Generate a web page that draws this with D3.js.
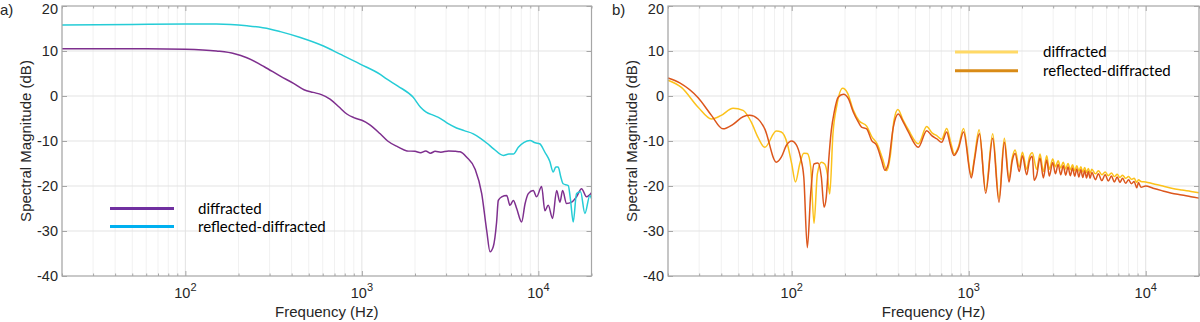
<!DOCTYPE html>
<html lang="en">
<head>
  <meta charset="UTF-8">
  <title>Spectral magnitude</title>
  <script src="https://cdn.jsdelivr.net/npm/d3@7"></script>
  <style>
    body { margin: 0; background: #fff; }
    svg { display: block; }
    .tick-label { font: 14.5px "Liberation Sans", Arial, sans-serif; fill: #262626; }
    .axis-title { font: 15px "Liberation Sans", Arial, sans-serif; fill: #262626; }
    .legend-text { font: 15px Lato, "Open Sans", sans-serif; fill: #000; }
  </style>
</head>
<body>
<div id="app"></div>
<script>
  // y ticks (dB) and x decade ticks (Hz)
  const yTicks = [-40, -30, -20, -10, 0, 10, 20];
  const xDecades = [100, 1000, 10000];
  const legendNames = ['diffracted', 'reflected-diffracted'];

  // panel a) [frequency Hz, dB]
  const diffractedA = [
    [20, 10.5], [60, 10.5], [100, 10.4], [150, 10.0], [190, 9.4], [223, 8.5], [280, 6.5],
    [345, 4.4], [410, 2.8], [470, 1.4], [530, 0.8], [590, 0.3], [660, -0.7], [740, -2.4],
    [822, -4.0], [900, -4.8], [1000, -5.4], [1100, -6.3], [1270, -8.4], [1400, -10.0],
    [1600, -11.3], [1800, -12.2], [2000, -12.3], [2150, -12.6], [2300, -12.2], [2450, -12.7],
    [2600, -12.3], [2800, -12.5], [3100, -12.2], [3400, -12.3], [3600, -12.4], [3926, -13.6],
    [4375, -16.2], [4775, -21.7], [5100, -30.0], [5323, -34.6], [5550, -33.5], [5800, -28.0],
    [5930, -23.2], [6195, -22.4], [6617, -22.1], [6905, -24.3], [7214, -23.2], [7535, -25.0],
    [8040, -28.0], [8400, -24.0], [8770, -21.7], [9354, -21.0], [9775, -22.4], [10430, -20.1],
    [10890, -25.5], [11370, -24.3], [12040, -27.2], [12690, -21.0], [13250, -23.6], [13720, -21.0],
    [14450, -23.9], [15420, -23.6], [16450, -22.4], [17570, -20.6], [18750, -22.4], [20000, -21.5]
  ];
  const reflDiffractedA = [
    [20, 15.8], [50, 15.9], [100, 16.0], [150, 16.0], [223, 15.6], [300, 14.9], [345, 14.3],
    [448, 13.0], [606, 11.1], [753, 9.3], [978, 7.1], [1270, 4.8], [1380, 3.8], [1600, 2.2],
    [1953, -0.3], [2150, -2.5], [2315, -3.6], [2550, -4.3], [2760, -4.9], [3100, -6.2],
    [3438, -7.1], [3800, -7.7], [4279, -8.4], [4700, -9.4], [5115, -10.5], [5600, -11.8],
    [6335, -13.2], [6800, -12.9], [7214, -12.9], [7700, -11.4], [8300, -10.3], [8960, -9.9],
    [9600, -10.4], [10170, -10.6], [10890, -12.5], [11600, -14.5], [12140, -16.9], [12550, -15.8],
    [12950, -15.8], [13400, -18.0], [13810, -19.5], [14770, -19.9], [15200, -23.0], [15760, -28.0],
    [16450, -21.7], [17340, -21.3], [18350, -26.1], [19580, -22.1], [20000, -22.8]
  ];

  // panel b) [frequency Hz, dB]
  const diffractedB = [
    [20, 3.5], [23.8, 1.9], [29.6, -2.5], [35.2, -5.1], [40, -4.3], [46.6, -2.7], [53.1, -3.2],
    [59.1, -5.8], [64.5, -9.2], [70.4, -11.4], [81.8, -7.8], [87.3, -8.0], [94.4, -10.6],
    [100, -15.1], [105, -19.1], [111, -15.1], [117, -12.7], [122.5, -12.8], [128, -15.8],
    [133.6, -28.3], [139.6, -17.3], [147, -14.7], [153.6, -15.1], [158.9, -17.3], [163.9, -21.8],
    [171, -8.4], [180, -2.0], [194, 1.7], [207, 0.6], [223, -3.2], [240, -5.5], [265, -6.7],
    [283, -9.0], [305, -10.8], [325, -13.8], [345, -16.6], [360, -13.5], [378, -5.5], [398, -3.0],
    [425, -5.3], [456, -7.5], [519, -10.6], [579, -6.8], [620, -8.2], [660, -8.8], [703, -9.6],
    [751, -7.2], [790, -10.2], [830, -12.9], [874, -11.3], [935, -7.2], [1035, -17.6], [1075, -13.9],
    [1145, -7.5], [1247, -21.0], [1366, -8.4], [1483, -22.8], [1589, -9.4], [1690, -18.4],
    [1760, -13.8], [1828, -12.0], [1930, -15.8], [2010, -12.5], [2127, -16.3], [2200, -13.6],
    [2287, -12.6], [2421, -16.3], [2528, -12.9], [2641, -16.8], [2758, -13.3], [2853, -16.3],
    [2982, -14.0], [3090, -15.7], [3200, -14.4], [3310, -16.0], [3420, -14.7], [3530, -16.2],
    [3640, -15.0], [3750, -16.4], [3860, -15.3], [3970, -16.6], [4080, -15.5], [4190, -16.7],
    [4300, -15.7], [4410, -16.9], [4520, -15.9], [4630, -17.0], [4740, -16.1], [4850, -17.1],
    [4960, -16.3], [5200, -17.3], [5400, -16.6], [5650, -17.5], [5900, -16.9], [6150, -17.7],
    [6400, -17.1], [6650, -17.9], [6900, -17.4], [7150, -18.1], [7400, -17.6], [7700, -18.3],
    [8000, -17.9], [8300, -18.5], [8600, -18.3], [8900, -19.2], [9100, -18.6], [9400, -19.0],
    [10000, -19.1], [11000, -19.5], [12500, -20.0], [14000, -20.5], [16000, -20.9], [18000, -21.2],
    [20000, -21.5]
  ];
  const reflDiffractedB = [
    [20, 4.0], [23.3, 2.9], [29.6, -0.4], [35.2, -4.3], [40.9, -7.3], [46.6, -6.3], [53.1, -4.6],
    [57.9, -4.3], [64.5, -5.1], [70.4, -7.3], [81.8, -14.7], [87.3, -13.6], [93.2, -11.0],
    [100, -10.0], [106, -10.8], [112, -13.6], [117, -18.0], [122.5, -33.7], [128, -21.7],
    [133.6, -15.1], [140.8, -14.9], [147, -18.0], [152.3, -24.7], [156.8, -22.4], [161.8, -14.3],
    [167.3, -7.7], [174, -3.5], [183, -0.3], [196, 0.4], [209, -0.6], [223, -3.6], [238, -5.8],
    [248, -6.9], [265, -7.3], [283, -9.9], [302, -11.0], [322, -14.3], [336, -16.5], [351, -15.1],
    [375, -6.9], [400, -4.0], [427, -5.8], [456, -8.0], [519, -11.4], [579, -7.7], [618, -8.8],
    [659, -9.5], [703, -10.3], [751, -8.0], [784, -10.6], [826, -13.2], [874, -11.7], [935, -8.0],
    [1035, -18.2], [1075, -14.5], [1150, -8.4], [1247, -21.6], [1366, -9.4], [1483, -23.6],
    [1589, -10.3], [1690, -19.1], [1760, -14.5], [1828, -12.8], [1930, -16.8], [2010, -13.3],
    [2127, -17.5], [2200, -14.5], [2287, -13.4], [2340, -18.7], [2421, -17.6], [2528, -13.8],
    [2641, -18.2], [2758, -14.2], [2853, -17.8], [2982, -14.8], [3090, -17.3], [3200, -15.2],
    [3310, -17.5], [3420, -15.5], [3530, -17.6], [3640, -15.8], [3750, -17.7], [3860, -16.0],
    [3970, -17.8], [4080, -16.2], [4190, -18.0], [4300, -16.4], [4410, -18.1], [4520, -16.6],
    [4630, -18.2], [4740, -16.8], [4850, -18.3], [4960, -17.0], [5200, -18.6], [5400, -17.3],
    [5650, -18.8], [5900, -17.5], [6150, -18.9], [6400, -17.8], [6650, -19.1], [6900, -18.0],
    [7150, -19.2], [7400, -18.3], [7700, -19.4], [8000, -18.6], [8300, -19.5], [8600, -19.0],
    [8900, -20.4], [9100, -19.2], [9400, -20.3], [10000, -20.0], [11000, -20.5], [12500, -21.1],
    [14000, -21.6], [16000, -22.0], [18000, -22.4], [20000, -22.7]
  ];

  const w = 1200;
  const h = 322;
  const plotTop = 6;
  const plotBottom = 276;

  const panels = [
    {
      tag: 'a)', tagX: 0, left: 62, right: 591.5,
      series: [diffractedA, reflDiffractedA],
      colors: ['#7e2f8e', '#25ccd6'],
      legendColors: ['#7030a0', '#00b0f0'],
      legend: { x1: 110, x2: 174, y: 208.5, dy: 18, tx: 198 }
    },
    {
      tag: 'b)', tagX: 612, left: 668, right: 1199,
      series: [diffractedB, reflDiffractedB],
      colors: ['#fcc21b', '#dc561c'],
      legendColors: ['#ffd966', '#d98b17'],
      legend: { x1: 955, x2: 1018, y: 52, dy: 18.7, tx: 1043 }
    }
  ];

  const svg = d3.select('#app')
    .append('svg')
    .attr('width', w)
    .attr('height', h);

  const yScale = d3.scaleLinear().domain([-40, 20]).range([plotBottom, plotTop]);

  panels.forEach(p => {
    const xScale = d3.scaleLog().domain([20, 20000]).range([p.left, p.right]);
    const allTicks = xScale.ticks();
    const minorTicks = allTicks.filter(v => !xDecades.includes(v));
    const g = svg.append('g');

    // grid
    g.append('g')
      .selectAll('line')
      .data(minorTicks)
      .enter()
      .append('line')
      .attr('x1', d => xScale(d)).attr('x2', d => xScale(d))
      .attr('y1', plotTop).attr('y2', plotBottom)
      .attr('stroke', '#f1f1f1');
    g.append('g')
      .selectAll('line')
      .data(xDecades)
      .enter()
      .append('line')
      .attr('x1', d => xScale(d)).attr('x2', d => xScale(d))
      .attr('y1', plotTop).attr('y2', plotBottom)
      .attr('stroke', '#e3e3e3');
    g.append('g')
      .selectAll('line')
      .data(yTicks.slice(1, -1))
      .enter()
      .append('line')
      .attr('x1', p.left).attr('x2', p.right)
      .attr('y1', d => yScale(d)).attr('y2', d => yScale(d))
      .attr('stroke', '#e3e3e3');

    // curves
    const line = d3.line()
      .x(d => xScale(d[0]))
      .y(d => yScale(d[1]))
      .curve(d3.curveMonotoneX);
    p.series.forEach((s, i) => {
      g.append('path')
        .datum(s)
        .attr('d', line)
        .attr('fill', 'none')
        .attr('stroke', p.colors[i])
        .attr('stroke-width', 1.5)
        .attr('stroke-linejoin', 'round');
    });

    // box + inward ticks
    const axisStyle = sel => {
      sel.select('.domain').remove();
      sel.selectAll('.tick line').attr('stroke', '#a6a6a6');
      sel.selectAll('.tick text').remove();
    };
    g.append('g')
      .attr('transform', `translate(0,${plotBottom})`)
      .call(d3.axisBottom(xScale).tickValues(xDecades).tickSize(-5))
      .call(axisStyle);
    g.append('g')
      .attr('transform', `translate(0,${plotBottom})`)
      .call(d3.axisBottom(xScale).tickValues(minorTicks).tickSize(-2.5))
      .call(axisStyle);
    g.append('g')
      .attr('transform', `translate(0,${plotTop})`)
      .call(d3.axisTop(xScale).tickValues(xDecades).tickSize(-5))
      .call(axisStyle);
    g.append('g')
      .attr('transform', `translate(0,${plotTop})`)
      .call(d3.axisTop(xScale).tickValues(minorTicks).tickSize(-2.5))
      .call(axisStyle);
    g.append('g')
      .attr('transform', `translate(${p.left},0)`)
      .call(d3.axisLeft(yScale).tickValues(yTicks).tickSize(-5))
      .call(axisStyle);
    g.append('g')
      .attr('transform', `translate(${p.right},0)`)
      .call(d3.axisRight(yScale).tickValues(yTicks).tickSize(-5))
      .call(axisStyle);

    g.append('rect')
      .attr('x', p.left).attr('y', plotTop)
      .attr('width', p.right - p.left).attr('height', plotBottom - plotTop)
      .attr('fill', 'none')
      .attr('stroke', '#a6a6a6')
      .attr('stroke-width', 1.2);

    // tick labels (top label nudged so it stays inside the page)
    g.selectAll('.ylab')
      .data(yTicks)
      .enter()
      .append('text')
      .attr('class', 'tick-label')
      .attr('x', p.left - 4)
      .attr('y', d => Math.max(yScale(d), 8.5))
      .attr('dy', '0.36em')
      .attr('text-anchor', 'end')
      .text(d => d);
    const xl = g.selectAll('.xlab')
      .data(xDecades)
      .enter()
      .append('text')
      .attr('class', 'tick-label')
      .attr('x', d => xScale(d))
      .attr('y', 298)
      .attr('text-anchor', 'middle');
    xl.append('tspan').text('10');
    xl.append('tspan')
      .attr('dy', -7)
      .attr('font-size', 11)
      .text(d => Math.round(Math.log10(d)));

    // titles
    g.append('text')
      .attr('class', 'axis-title')
      .attr('x', (p.left + p.right) / 2)
      .attr('y', 317)
      .attr('text-anchor', 'middle')
      .text('Frequency (Hz)');
    g.append('text')
      .attr('class', 'axis-title')
      .attr('transform', `translate(${p.left - 31},${(plotTop + plotBottom) / 2}) rotate(-90)`)
      .attr('text-anchor', 'middle')
      .text('Spectral Magnitude (dB)');
    g.append('text')
      .attr('class', 'axis-title')
      .attr('x', p.tagX)
      .attr('y', 15)
      .text(p.tag);

    // legend
    legendNames.forEach((name, i) => {
      const ly = p.legend.y + i * p.legend.dy;
      g.append('line')
        .attr('x1', p.legend.x1).attr('x2', p.legend.x2)
        .attr('y1', ly).attr('y2', ly)
        .attr('stroke', p.legendColors[i])
        .attr('stroke-width', 3);
      g.append('text')
        .attr('class', 'legend-text')
        .attr('x', p.legend.tx)
        .attr('y', ly + 5)
        .text(name);
    });
  });
</script>
</body>
</html>
